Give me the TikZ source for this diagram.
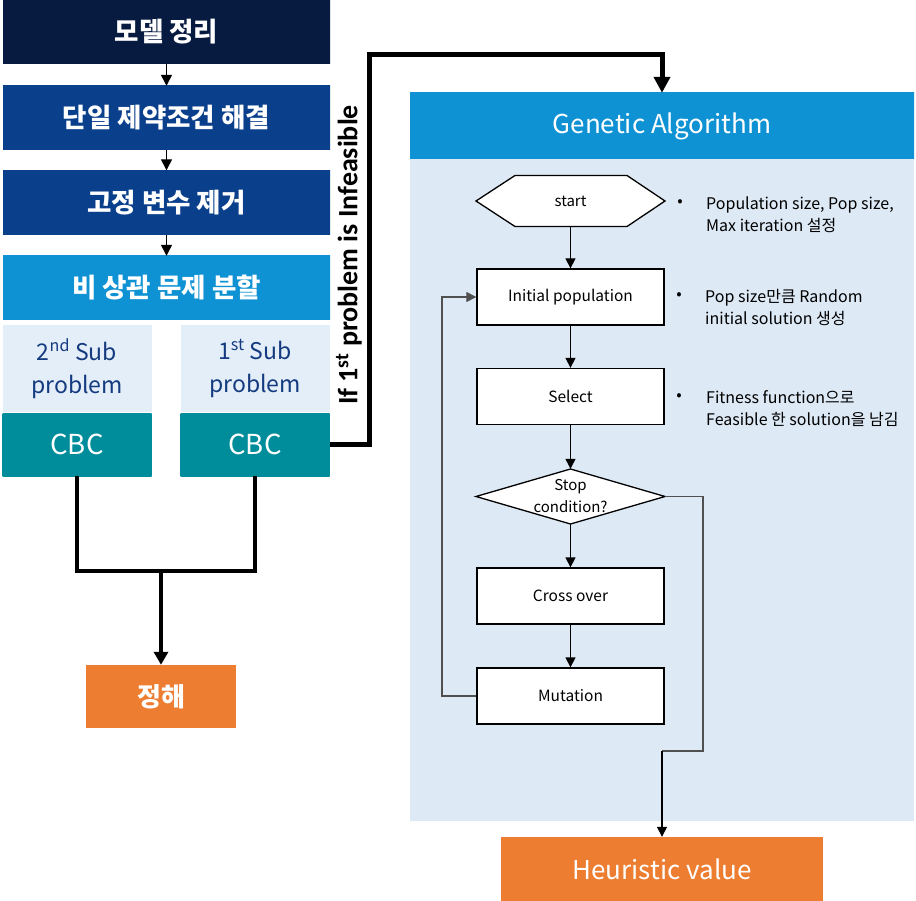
\documentclass[tikz,border=0pt]{standalone}
\usepackage{fontspec}
\setmainfont{Noto Sans CJK KR}
\newfontfamily\calb{Carlito}
\usetikzlibrary{arrows.meta}
\definecolor{navyA}{HTML}{071A40}
\definecolor{navyB}{HTML}{123E84}
\definecolor{blueA}{HTML}{0A3F8C}
\definecolor{blueB}{HTML}{0E5AB2}
\definecolor{skyA}{HTML}{0E92D4}
\definecolor{skyB}{HTML}{2CBAF6}
\definecolor{tealA}{HTML}{008D9B}
\definecolor{tealB}{HTML}{00A8B8}
\definecolor{subbg}{HTML}{E3EEF8}
\definecolor{panel}{HTML}{DDE9F5}
\definecolor{orng}{HTML}{ED7D31}
\definecolor{subtxt}{HTML}{143A80}
\definecolor{loopgray}{HTML}{505050}
\begin{document}
\begin{tikzpicture}[x=1pt,y=-1pt,
  lbox/.style={minimum width=327pt, minimum height=64pt, inner sep=0pt, text=white,
    font=\bfseries\fontsize{26.5}{30}\selectfont},
  subbox/.style={minimum width=149pt, minimum height=87pt, inner sep=0pt, fill=subbg,
    text=subtxt, align=center, font=\fontsize{23}{33}\selectfont},
  cbcbox/.style={minimum width=149pt, minimum height=63pt, inner sep=0pt, text=white,
    left color=tealA, middle color=tealB, right color=tealA, font=\fontsize{27.5}{30}\selectfont},
  obox/.style={fill=orng, inner sep=0pt, text=white},
  fbox/.style={draw, line width=1.3pt, fill=white, minimum width=187pt, minimum height=56pt,
    inner sep=0pt, font=\fontsize{15.5}{18}\selectfont},
  ftext/.style={inner sep=0pt, font=\fontsize{15}{22}\selectfont, align=center},
  shapeline/.style={draw, line width=1.3pt, fill=white, line join=miter},
  farrow/.style={line width=1.3pt, -{Triangle[length=10pt,width=10pt]}},
  garrow/.style={line width=1.2pt, draw=loopgray, -{Triangle[length=10pt,width=10pt]}},
  larrow/.style={line width=1.4pt, -{Triangle[length=11pt,width=11pt]}},
  bul/.style={inner sep=0pt, font=\fontsize{16}{22}\selectfont},
  btext/.style={inner sep=0pt, anchor=west, align=left, font=\fontsize{16}{22}\selectfont},
]
\useasboundingbox (0,0) rectangle (916,901);

% left column
\node[lbox, left color=navyA, middle color=navyB, right color=navyA] (m1) at (166.5,32) {모델 정리};
\node[lbox, left color=blueA, middle color=blueB, right color=blueA] (m2) at (166.5,118) {단일 제약조건 해결};
\node[lbox, left color=blueA, middle color=blueB, right color=blueA] (m3) at (166.5,202.5) {고정 변수 제거};
\node[lbox, left color=skyA, middle color=skyB, right color=skyA] (m4) at (166.5,288) {비 상관 문제 분할};
\draw[larrow] (m1.south) -- (m2.north);
\draw[larrow] (m2.south) -- (m3.north);
\draw[larrow] (m3.south) -- (m4.north);

\node[subbox] (sub2) at (77,368.5) {2\textsuperscript{nd} Sub\\problem};
\node[subbox] (sub1) at (255,368.5) {1\textsuperscript{st} Sub\\problem};
\node[cbcbox] (cbc2) at (77,444.5) {CBC};
\node[cbcbox] (cbc1) at (255,444.5) {CBC};

\node[obox, minimum width=150pt, minimum height=63pt, font=\bfseries\fontsize{26}{30}\selectfont] (jh) at (161,696.5) {정해};
\coordinate (jn) at (161,571);
\draw[line width=3.5pt, line join=miter] (cbc2.south) |- (jn) -| (cbc1.south);
\draw[line width=3.5pt, -{Triangle[length=13pt,width=14pt]}] (jn) -- (jh.north);

% GA panel
\node[fill=panel, minimum width=504pt, minimum height=728pt, inner sep=0pt] (panel) at (662,457) {};
\node[minimum width=504pt, minimum height=66pt, inner sep=0pt, text=white,
  left color=skyA, middle color=skyB, right color=skyA,
  font=\fontsize{26}{30}\selectfont] (gahead) at (662,126) {Genetic Algorithm};

% thick connector
\coordinate (t1) at (369,55);
\draw[line width=5pt, line join=miter, -{Triangle[length=16pt,width=16pt]}] (cbc1.east) -| (t1) -| (gahead.north);
\node[rotate=90, inner sep=0pt, font=\calb\bfseries\fontsize{28}{30}\selectfont] (cond) at (349,255) {If 1\textsuperscript{st} problem is Infeasible};

% flow chart
\draw[shapeline] (476,201) -- (515,175.5) -- (627,175.5) -- (665,201) -- (627,226.5) -- (515,226.5) -- cycle;
\node[ftext, minimum width=189pt, minimum height=51pt] (start) at (570.5,201) {start};
\node[fbox] (init) at (570.5,297) {Initial population};
\node[fbox] (sel) at (570.5,396.5) {Select};
\draw[shapeline] (476,496.5) -- (570.5,469) -- (665,496.5) -- (570.5,524) -- cycle;
\node[ftext, minimum width=189pt, minimum height=55pt] (stop) at (570.5,496.5) {Stop\\condition?};
\node[fbox] (cross) at (570.5,596) {Cross over};
\node[fbox] (mut) at (570.5,696) {Mutation};

\draw[farrow] (start.south) -- (init.north);
\draw[farrow] (init.south) -- (sel.north);
\draw[farrow] (sel.south) -- (stop.north);
\draw[farrow] (stop.south) -- (cross.north);
\draw[farrow] (cross.south) -- (mut.north);

\coordinate (lp) at (442,696);
\draw[garrow] (mut.west) -- (lp) |- (init.west);

\node[obox, minimum width=322pt, minimum height=64pt, font=\fontsize{26}{30}\selectfont] (heur) at (662,869) {Heuristic value};
\coordinate (s2) at (703,751);
\coordinate (s3) at (662,751);
\draw[line width=1.2pt, draw=loopgray] (stop.east) -| (s2) -- (s3);
\draw[farrow] (s3) -- (heur.north);

% bullets
\node[bul] (b1) at (680,203) {•};
\node[btext] (t1a) at (706,214.5) {Population size, Pop size,\\Max iteration 설정};
\node[bul] (b2) at (679,296) {•};
\node[btext] (t2a) at (705,307.5) {Pop size만큼 Random\\initial solution 생성};
\node[bul] (b3) at (679,397) {•};
\node[btext] (t3a) at (706,408.5) {Fitness function으로\\Feasible 한 solution을 남김};
\end{tikzpicture}
\end{document}
